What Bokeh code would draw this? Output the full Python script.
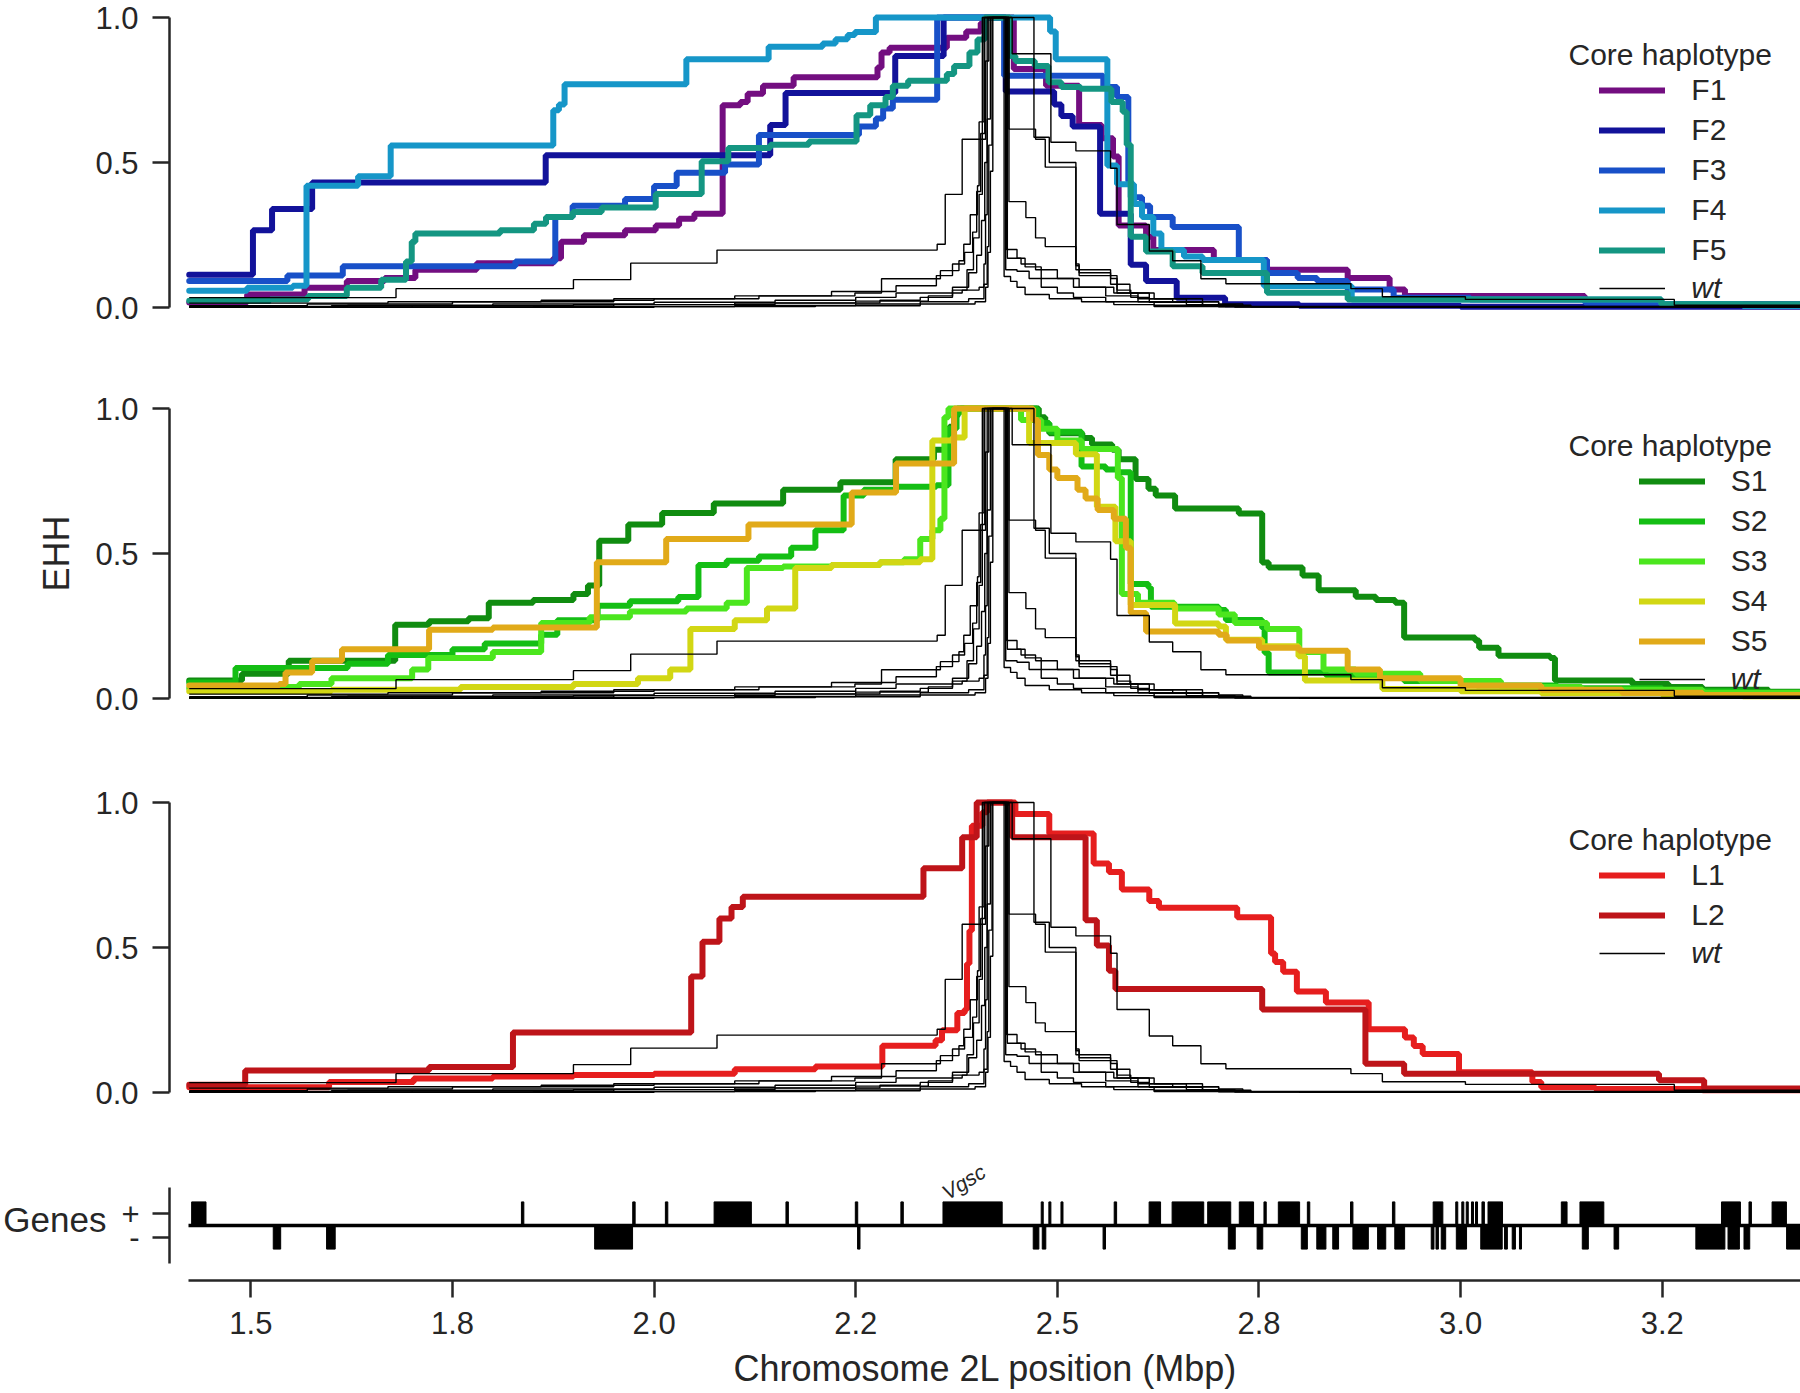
from bokeh.plotting import figure
from bokeh.layouts import column
from bokeh.models import Range1d, FixedTicker, Legend, LegendItem, Label
from bokeh.embed import file_html
from bokeh.resources import INLINE
from bokeh.core.properties import value

# ---------------- data ----------------
WIN_START, WIN_END = 1.4227, 3.4227          # Mbp window shown
x_ticks = [1.5, 1.75, 2.0, 2.25, 2.5, 2.75, 3.0, 3.25]
x_tick_labels = ["1.5", "1.8", "2.0", "2.2", "2.5", "2.8", "3.0", "3.2"]
ehh_ticks = [0.0, 0.5, 1.0]
ehh_tick_labels = ["0.0", "0.5", "1.0"]
strand_ticks = [-0.5, 0.5]
strand_labels = ["-", "+"]

# F haplotypes (x in Mbp, EHH value from that x onwards)
F1_x = [1.4236, 1.4954, 1.5666, 1.619, 1.666, 1.704, 1.780, 1.875, 1.8846, 1.913, 1.964, 2.002, 2.031, 2.050, 2.085, 2.107, 2.116, 2.135, 2.173, 2.277, 2.282, 2.292, 2.363, 2.387, 2.405, 2.410, 2.446, 2.486, 2.527, 2.555, 2.569, 2.576, 2.610, 2.619, 2.694, 2.760, 2.860, 2.912, 2.931, 3.154, 3.249]
F1_y = [0.017, 0.045, 0.068, 0.091, 0.102, 0.130, 0.153, 0.170, 0.227, 0.249, 0.266, 0.283, 0.306, 0.323, 0.697, 0.709, 0.737, 0.765, 0.794, 0.828, 0.879, 0.896, 0.930, 0.952, 0.981, 1.000, 0.822, 0.765, 0.629, 0.584, 0.521, 0.283, 0.244, 0.198, 0.164, 0.130, 0.102, 0.062, 0.040, 0.023, 0.011]
F2_x = [1.4236, 1.5026, 1.5263, 1.576, 1.8656, 2.144, 2.163, 2.299, 2.359, 2.436, 2.496, 2.505, 2.519, 2.553, 2.591, 2.610, 2.648, 2.708, 2.80, 3.00]
F2_y = [0.113, 0.266, 0.340, 0.431, 0.525, 0.629, 0.740, 0.867, 1.000, 0.745, 0.700, 0.660, 0.624, 0.323, 0.147, 0.091, 0.034, 0.011, 0.006, 0.003]
F3_x = [1.4236, 1.5453, 1.614, 1.828, 1.8775, 1.899, 1.964, 2.000, 2.028, 2.088, 2.130, 2.254, 2.275, 2.284, 2.296, 2.351, 2.434, 2.557, 2.574, 2.588, 2.591, 2.605, 2.615, 2.643, 2.725, 2.760, 2.798, 2.822, 2.860, 2.917, 3.012, 3.154, 3.249]
F3_y = [0.091, 0.110, 0.142, 0.159, 0.312, 0.351, 0.374, 0.419, 0.465, 0.493, 0.595, 0.624, 0.652, 0.686, 0.716, 1.000, 0.799, 0.760, 0.726, 0.436, 0.380, 0.351, 0.312, 0.278, 0.164, 0.119, 0.102, 0.091, 0.062, 0.034, 0.028, 0.017, 0.011]
F4_x = [1.4236, 1.4954, 1.552, 1.569, 1.633, 1.6734, 1.875, 1.882, 1.889, 2.040, 2.142, 2.209, 2.225, 2.240, 2.249, 2.275, 2.491, 2.498, 2.562, 2.574, 2.595, 2.605, 2.619, 2.629, 2.657, 2.680, 2.756, 2.865, 3.249, 3.35]
F4_y = [0.058, 0.068, 0.075, 0.420, 0.453, 0.559, 0.680, 0.700, 0.770, 0.856, 0.899, 0.910, 0.925, 0.940, 0.950, 1.000, 0.952, 0.856, 0.490, 0.425, 0.357, 0.312, 0.255, 0.198, 0.176, 0.164, 0.074, 0.028, 0.011, 0.005]
F5_x = [1.4236, 1.524, 1.571, 1.619, 1.6616, 1.6924, 1.6995, 1.704, 1.809, 1.851, 1.866, 1.899, 1.935, 2.002, 2.059, 2.092, 2.144, 2.192, 2.251, 2.268, 2.287, 2.296, 2.315, 2.363, 2.372, 2.391, 2.401, 2.410, 2.441, 2.448, 2.472, 2.489, 2.505, 2.529, 2.567, 2.581, 2.586, 2.591, 2.610, 2.643, 2.680, 2.760, 2.860, 3.249]
F5_y = [0.023, 0.028, 0.040, 0.068, 0.096, 0.159, 0.227, 0.255, 0.266, 0.289, 0.312, 0.329, 0.345, 0.391, 0.504, 0.550, 0.561, 0.572, 0.663, 0.697, 0.726, 0.765, 0.782, 0.805, 0.833, 0.879, 0.924, 1.000, 0.867, 0.850, 0.833, 0.777, 0.760, 0.754, 0.709, 0.675, 0.561, 0.244, 0.193, 0.142, 0.119, 0.051, 0.028, 0.011]

# S haplotypes
S1_x = [1.4236, 1.489, 1.547, 1.679, 1.721, 1.770, 1.795, 1.85, 1.90, 1.918, 1.932, 1.968, 2.010, 2.074, 2.16, 2.231, 2.2995, 2.347, 2.361, 2.366, 2.372, 2.376, 2.477, 2.485, 2.490, 2.531, 2.543, 2.568, 2.576, 2.597, 2.613, 2.622, 2.646, 2.725, 2.754, 2.762, 2.804, 2.824, 2.870, 2.895, 2.919, 2.930, 3.018, 3.023, 3.047, 3.111, 3.117, 3.213, 3.258, 3.30, 3.382]
S1_y = [0.062, 0.085, 0.130, 0.254, 0.266, 0.277, 0.330, 0.340, 0.360, 0.390, 0.544, 0.600, 0.640, 0.672, 0.720, 0.746, 0.825, 0.858, 0.904, 0.937, 0.972, 1.000, 0.970, 0.948, 0.915, 0.898, 0.876, 0.858, 0.825, 0.757, 0.723, 0.700, 0.655, 0.638, 0.469, 0.452, 0.424, 0.373, 0.351, 0.340, 0.330, 0.210, 0.200, 0.175, 0.147, 0.140, 0.062, 0.050, 0.040, 0.030, 0.023]
S2_x = [1.4236, 1.481, 1.62, 1.67, 1.75, 1.79, 1.86, 1.88, 1.93, 1.97, 2.03, 2.055, 2.09, 2.13, 2.17, 2.20, 2.235, 2.26, 2.30, 2.35, 2.365, 2.375, 2.38, 2.475, 2.49, 2.53, 2.56, 2.575, 2.591, 2.613, 2.616, 2.70, 2.709, 2.754, 2.757, 2.762, 2.833, 2.87, 2.93, 3.02, 3.12, 3.25, 3.35]
S2_y = [0.055, 0.105, 0.12, 0.15, 0.17, 0.19, 0.22, 0.27, 0.32, 0.335, 0.35, 0.46, 0.475, 0.49, 0.52, 0.58, 0.70, 0.72, 0.73, 0.735, 0.93, 0.985, 1.0, 0.95, 0.92, 0.80, 0.79, 0.78, 0.395, 0.383, 0.316, 0.305, 0.271, 0.243, 0.158, 0.09, 0.08, 0.073, 0.06, 0.045, 0.035, 0.025, 0.02]
S3_x = [1.4236, 1.50, 1.56, 1.60, 1.70, 1.72, 1.80, 1.86, 1.92, 1.97, 2.04, 2.09, 2.115, 2.16, 2.22, 2.28, 2.31, 2.33, 2.345, 2.355, 2.36, 2.365, 2.455, 2.48, 2.50, 2.53, 2.575, 2.58, 2.60, 2.645, 2.70, 2.72, 2.76, 2.80, 2.83, 2.87, 2.95, 3.05, 3.15, 3.30]
S3_y = [0.035, 0.04, 0.05, 0.07, 0.10, 0.14, 0.16, 0.26, 0.28, 0.30, 0.31, 0.33, 0.45, 0.455, 0.46, 0.47, 0.48, 0.55, 0.58, 0.62, 0.97, 1.0, 0.96, 0.93, 0.89, 0.86, 0.76, 0.36, 0.33, 0.31, 0.29, 0.26, 0.24, 0.16, 0.10, 0.085, 0.06, 0.04, 0.03, 0.02]
S4_x = [1.4236, 1.60, 1.76, 1.90, 1.98, 2.02, 2.045, 2.10, 2.14, 2.175, 2.22, 2.28, 2.33, 2.345, 2.37, 2.385, 2.465, 2.523, 2.549, 2.572, 2.591, 2.646, 2.70, 2.709, 2.754, 2.799, 2.807, 2.903, 3.0, 3.1, 3.25, 3.35]
S4_y = [0.025, 0.03, 0.04, 0.05, 0.07, 0.10, 0.24, 0.27, 0.31, 0.45, 0.46, 0.47, 0.48, 0.89, 0.90, 1.0, 0.881, 0.842, 0.661, 0.542, 0.322, 0.259, 0.248, 0.203, 0.18, 0.146, 0.062, 0.033, 0.025, 0.018, 0.012, 0.008]
S5_x = [1.4236, 1.535, 1.543, 1.576, 1.613, 1.721, 1.80, 1.929, 2.015, 2.117, 2.245, 2.30, 2.372, 2.47, 2.476, 2.49, 2.50, 2.525, 2.535, 2.55, 2.57, 2.585, 2.591, 2.61, 2.70, 2.71, 2.75, 2.80, 2.86, 2.90, 3.0, 3.1, 3.2, 3.3]
S5_y = [0.045, 0.05, 0.09, 0.13, 0.17, 0.237, 0.245, 0.47, 0.55, 0.60, 0.71, 0.81, 1.0, 0.96, 0.84, 0.79, 0.76, 0.72, 0.69, 0.65, 0.62, 0.52, 0.295, 0.231, 0.22, 0.20, 0.175, 0.165, 0.10, 0.07, 0.045, 0.03, 0.02, 0.012]

# L haplotypes
L1_x = [1.4236, 1.597, 1.702, 1.80, 1.90, 2.00, 2.10, 2.20, 2.283, 2.349, 2.357, 2.376, 2.385, 2.388, 2.391, 2.394, 2.407, 2.413, 2.448, 2.490, 2.545, 2.564, 2.580, 2.614, 2.626, 2.723, 2.765, 2.770, 2.780, 2.797, 2.833, 2.886, 2.931, 2.942, 2.953, 2.998, 3.089, 3.10, 3.167, 3.30]
L1_y = [0.018, 0.036, 0.048, 0.055, 0.060, 0.065, 0.080, 0.090, 0.161, 0.180, 0.215, 0.274, 0.286, 0.444, 0.558, 0.920, 0.966, 1.000, 0.960, 0.893, 0.790, 0.760, 0.700, 0.660, 0.637, 0.604, 0.479, 0.450, 0.416, 0.348, 0.310, 0.218, 0.190, 0.160, 0.133, 0.070, 0.036, 0.018, 0.012, 0.008]
L2_x = [1.4236, 1.493, 1.721, 1.825, 2.046, 2.060, 2.081, 2.096, 2.110, 2.334, 2.382, 2.400, 2.444, 2.535, 2.549, 2.564, 2.572, 2.754, 2.882, 2.930, 3.246, 3.302]
L2_y = [0.027, 0.076, 0.088, 0.207, 0.400, 0.520, 0.600, 0.640, 0.675, 0.773, 0.880, 1.000, 0.880, 0.594, 0.507, 0.420, 0.357, 0.286, 0.099, 0.065, 0.042, 0.014]

# wild-type core haplotypes (same in every panel)
wt1_x = [1.4236, 1.68, 1.90, 1.971, 2.078, 2.351, 2.361, 2.382, 2.407, 2.471, 2.49, 2.523, 2.527, 2.566, 2.574, 2.591, 2.614, 2.68, 2.72, 2.80]
wt1_y = [0.034, 0.065, 0.096, 0.153, 0.198, 0.218, 0.39, 0.58, 1.0, 0.587, 0.50, 0.15, 0.13, 0.11, 0.06, 0.035, 0.018, 0.006, 0.002, 0.001]
wt2_x = [1.4236, 1.57, 1.75, 1.95, 2.10, 2.249, 2.282, 2.355, 2.378, 2.384, 2.392, 2.401, 2.403, 2.409, 2.440, 2.473, 2.485, 2.523, 2.527, 2.566, 2.574, 2.614, 2.68, 2.72]
wt2_y = [0.006, 0.012, 0.02, 0.03, 0.04, 0.05, 0.099, 0.127, 0.161, 0.218, 0.32, 0.42, 0.64, 1.0, 0.615, 0.58, 0.484, 0.144, 0.12, 0.10, 0.05, 0.03, 0.01, 0.003]
wt3_x = [1.4236, 1.62, 1.80, 2.00, 2.15, 2.25, 2.30, 2.382, 2.388, 2.396, 2.403, 2.407, 2.411, 2.415, 2.444, 2.492, 2.523, 2.566, 2.574, 2.614, 2.643, 2.678, 2.709, 2.864, 2.903, 3.006, 3.265]
wt3_y = [0.004, 0.008, 0.012, 0.018, 0.025, 0.035, 0.05, 0.06, 0.13, 0.24, 0.39, 0.58, 0.85, 1.0, 0.875, 0.57, 0.54, 0.48, 0.286, 0.195, 0.161, 0.099, 0.082, 0.065, 0.037, 0.028, 0.008]
wt4_x = [1.4236, 1.70, 1.95, 2.15, 2.28, 2.33, 2.37, 2.403, 2.409, 2.411, 2.413, 2.417, 2.440, 2.461, 2.473, 2.485, 2.523, 2.527, 2.566, 2.59, 2.62, 2.66, 2.70, 2.74]
wt4_y = [0.002, 0.005, 0.01, 0.016, 0.025, 0.035, 0.06, 0.07, 0.15, 0.32, 0.65, 1.0, 0.365, 0.31, 0.24, 0.21, 0.13, 0.11, 0.08, 0.05, 0.03, 0.02, 0.008, 0.002]
wt5_x = [1.4236, 1.85, 2.10, 2.25, 2.33, 2.39, 2.409, 2.413, 2.415, 2.419, 2.436, 2.45, 2.465, 2.48, 2.50, 2.52, 2.56, 2.62, 2.70]
wt5_y = [0.001, 0.003, 0.007, 0.012, 0.02, 0.03, 0.08, 0.21, 0.56, 1.0, 0.13, 0.125, 0.10, 0.07, 0.05, 0.035, 0.02, 0.008, 0.002]
wt6_x = [1.4236, 2.0, 2.2, 2.33, 2.398, 2.411, 2.414, 2.417, 2.420, 2.434, 2.442, 2.45, 2.46, 2.49, 2.53, 2.57, 2.62]
wt6_y = [0.001, 0.003, 0.006, 0.012, 0.02, 0.07, 0.19, 0.47, 1.0, 0.107, 0.09, 0.07, 0.045, 0.03, 0.02, 0.01, 0.003]
wt7_x = [1.4236, 1.67, 1.86, 2.00, 2.13, 2.22, 2.30, 2.35, 2.37, 2.385, 2.395, 2.40, 2.405, 2.41, 2.438, 2.455, 2.473, 2.50, 2.527, 2.57, 2.60, 2.643, 2.70, 2.73]
wt7_y = [0.015, 0.02, 0.025, 0.03, 0.04, 0.055, 0.075, 0.11, 0.15, 0.19, 0.26, 0.40, 0.60, 1.0, 0.17, 0.15, 0.13, 0.10, 0.07, 0.05, 0.03, 0.02, 0.012, 0.004]
wt8_x = [1.4236, 1.6, 1.9, 2.1, 2.25, 2.34, 2.37, 2.39, 2.40, 2.406, 2.41, 2.413, 2.437, 2.45, 2.46, 2.48, 2.52, 2.56, 2.60, 2.66, 2.72]
wt8_y = [0.003, 0.006, 0.01, 0.015, 0.022, 0.04, 0.07, 0.12, 0.18, 0.3, 0.5, 1.0, 0.2, 0.17, 0.14, 0.10, 0.07, 0.04, 0.02, 0.01, 0.003]

# genes (Mbp)
plus_start = [1.4266, 1.8355, 1.9735, 2.0140, 2.0744, 2.1635, 2.2495, 2.3060, 2.3582, 2.4800, 2.4895, 2.5045, 2.5705, 2.6138, 2.6423, 2.6864, 2.7256, 2.7562, 2.7740, 2.8100, 2.8635, 2.9155, 2.9660, 2.9940, 3.0015, 3.0070, 3.0135, 3.0185, 3.0265, 3.0340, 3.1249, 3.1480, 3.3235, 3.3576, 3.3862]
plus_end = [1.4444, 1.8385, 1.9765, 2.0170, 2.1206, 2.1665, 2.2525, 2.3090, 2.4316, 2.4825, 2.4920, 2.5070, 2.5735, 2.6280, 2.6815, 2.7150, 2.7433, 2.7590, 2.8004, 2.8130, 2.8665, 2.9185, 2.9780, 2.9965, 3.0040, 3.0095, 3.0160, 3.0210, 3.0295, 3.0520, 3.1320, 3.1776, 3.3470, 3.3606, 3.4040]
minus_start = [1.5278, 1.5939, 1.9263, 2.2523, 2.4701, 2.4813, 2.5567, 2.7120, 2.7477, 2.8025, 2.8217, 2.8415, 2.8665, 2.8971, 2.9184, 2.9636, 2.9695, 2.9760, 2.9947, 3.0250, 3.0545, 3.0640, 3.0730, 3.1509, 3.1903, 3.2917, 3.3316, 3.3514, 3.4042]
minus_end = [1.5370, 1.6046, 1.9733, 2.2553, 2.4771, 2.4857, 2.5597, 2.7206, 2.7547, 2.8100, 2.8330, 2.8487, 2.8856, 2.9072, 2.9306, 2.9670, 2.9725, 2.9815, 3.0074, 3.0516, 3.0580, 3.0680, 3.0755, 3.1584, 3.1960, 3.3277, 3.3457, 3.3585, 3.4227]
vgsc_label = "Vgsc"
vgsc_start = 2.3582

F_names = ["F1", "F2", "F3", "F4", "F5"]
S_names = ["S1", "S2", "S3", "S4", "S5"]
L_names = ["L1", "L2"]
F_colors = ["#730e80", "#12129a", "#1850c8", "#1696c8", "#149682"]
S_colors = ["#108c10", "#14be14", "#4be61e", "#d2d714", "#e1aa19"]
L_colors = ["#e61e1e", "#be1419"]

# ---------------- layout / style ----------------
FONT = "Liberation Sans"
TXT = "#262626"
BORDER_L = 168
FRAME_W = 1800 - BORDER_L
OFFSET = 19                                   # gap between spine and data start (px)
px_per_mbp = (FRAME_W - OFFSET) / (WIN_END - WIN_START)
xr = Range1d(WIN_START - OFFSET / px_per_mbp, WIN_END)

EHH_SCALE = 290.0
EHH_PAD_PX = 7
EHH_H = int(EHH_SCALE + 2 * EHH_PAD_PX)
pad = EHH_PAD_PX / EHH_SCALE
ONE_Y = EHH_H - EHH_PAD_PX                    # frame px (from bottom) of EHH = 1
LEGEND_X = 1492                               # legend anchor (frame px from left)


def style_axis(ax):
    ax.axis_line_color = TXT
    ax.axis_line_width = 2.5
    ax.major_tick_line_color = TXT
    ax.major_tick_line_width = 2.5
    ax.major_tick_out = 17
    ax.major_tick_in = 0
    ax.minor_tick_line_color = None
    ax.major_label_text_font = FONT
    ax.major_label_text_font_size = "31px"
    ax.major_label_text_color = TXT
    ax.axis_label_text_font = FONT
    ax.axis_label_text_font_size = "36px"
    ax.axis_label_text_font_style = "normal"
    ax.axis_label_text_color = TXT


def ehh_fig(top, bottom):
    p = figure(frame_width=FRAME_W, frame_height=EHH_H, x_range=xr,
               y_range=Range1d(-pad, 1 + pad), x_axis_location=None,
               output_backend="svg", toolbar_location=None,
               min_border_left=BORDER_L, min_border_right=0,
               min_border_top=top, min_border_bottom=bottom)
    p.grid.visible = False
    p.outline_line_color = None
    ax = p.yaxis[0]
    style_axis(ax)
    ax.ticker = FixedTicker(ticks=ehh_ticks)
    ax.major_label_overrides = dict(zip(ehh_ticks, ehh_tick_labels))
    ax.bounds = (0, 1)
    ax.major_label_standoff = 14
    ax.axis_label_standoff = 15
    return p


def stepped(xs, ys):
    assert len(xs) == len(ys)
    return list(xs) + [WIN_END], list(ys) + [ys[-1]]


wt_curves = [(wt1_x, wt1_y), (wt2_x, wt2_y), (wt3_x, wt3_y), (wt4_x, wt4_y),
             (wt5_x, wt5_y), (wt6_x, wt6_y), (wt7_x, wt7_y), (wt8_x, wt8_y)]


def fill_panel(p, names, curves, colors):
    items = []
    for name, (xs, ys), c in zip(names, curves, colors):
        xx, yy = stepped(xs, ys)
        r = p.step(xx, yy, mode="after", line_color=c, line_width=6, line_cap="round")
        items.append((name, r))
    wt_r = None
    for xs, ys in wt_curves:
        xx, yy = stepped(xs, ys)
        r = p.step(xx, yy, mode="after", line_color="black", line_width=1.4)
        if wt_r is None:
            wt_r = r

    pitch = 40
    top = ONE_Y - 73 + pitch / 2              # top edge of first legend row
    common = dict(border_line_color=None, background_fill_alpha=0, padding=0, margin=0,
                  spacing=0, glyph_width=66, glyph_height=pitch, label_height=pitch,
                  label_standoff=26, label_text_font=FONT, label_text_font_size="30px",
                  label_text_color=TXT, label_text_baseline="middle")
    n = len(items)
    leg = Legend(items=[LegendItem(label=nm, renderers=[r]) for nm, r in items],
                 location=(LEGEND_X, top - pitch * n), **common)
    p.add_layout(leg)
    leg2 = Legend(items=[LegendItem(label="wt", renderers=[wt_r])],
                  location=(LEGEND_X, top - pitch * (n + 1) + 2.5),
                  label_text_font_style="italic", **common)
    p.add_layout(leg2)
    title = Label(x=1567 - BORDER_L, y=ONE_Y - 36.5, x_units="screen", y_units="screen",
                  text="Core haplotype", text_font=FONT, text_font_size="30px",
                  text_color=TXT, text_baseline="middle", text_align="left")
    p.add_layout(title)


p1 = ehh_fig(10, 75)
fill_panel(p1, F_names, [(F1_x, F1_y), (F2_x, F2_y), (F3_x, F3_y), (F4_x, F4_y), (F5_x, F5_y)], F_colors)
p2 = ehh_fig(12, 78)
p2.yaxis[0].axis_label = "EHH"
fill_panel(p2, S_names, [(S1_x, S1_y), (S2_x, S2_y), (S3_x, S3_y), (S4_x, S4_y), (S5_x, S5_y)], S_colors)
p3 = ehh_fig(12, 55)
fill_panel(p3, L_names, [(L1_x, L1_y), (L2_x, L2_y)], L_colors)

# ---------------- genes panel ----------------
G_UNIT = 23.6
G_FRAME_H = 123
G_LINE_FROM_TOP = 68
g_top = G_LINE_FROM_TOP / G_UNIT
g_bot = -(G_FRAME_H - G_LINE_FROM_TOP) / G_UNIT
pg = figure(frame_width=FRAME_W, frame_height=G_FRAME_H, x_range=xr,
            y_range=Range1d(g_bot, g_top), output_backend="svg", toolbar_location=None,
            min_border_left=BORDER_L, min_border_right=0, min_border_top=3, min_border_bottom=112)
pg.grid.visible = False
pg.outline_line_color = None

xa = pg.xaxis[0]
style_axis(xa)
xa.ticker = FixedTicker(ticks=x_ticks)
xa.major_label_overrides = dict(zip(x_ticks, x_tick_labels))
xa.bounds = (WIN_START, WIN_END)
xa.major_label_standoff = 14
xa.axis_label = "Chromosome 2L position (Mbp)"
xa.axis_label_standoff = 11

ya = pg.yaxis[0]
style_axis(ya)
ya.axis_label_text_font_size = "35px"
ya.ticker = FixedTicker(ticks=strand_ticks)
ya.major_label_overrides = dict(zip(strand_ticks, strand_labels))
ya.bounds = (-1.62, 1.62)
ya.major_label_standoff = 13
ya.axis_label = "Genes"
ya.axis_label_standoff = 12
try:
    ya.axis_label_orientation = "horizontal"
except Exception:
    pass

pg.line([WIN_START, WIN_END], [0, 0], line_color="black", line_width=3.5)
pg.quad(left=plus_start, right=plus_end, bottom=0, top=1,
        fill_color="black", line_color="black", line_width=1)
pg.quad(left=minus_start, right=minus_end, bottom=-1, top=0,
        fill_color="black", line_color="black", line_width=1)
pg.text(x=[vgsc_start + 0.001], y=[1.33], text=[vgsc_label], angle=0.55,
        text_font=value(FONT), text_font_size="21px", text_font_style="italic",
        text_color=TXT, text_baseline="alphabetic", text_align="left")

layout = column(p1, p2, p3, pg)
open("out.html", "w").write(file_html(layout, INLINE))
